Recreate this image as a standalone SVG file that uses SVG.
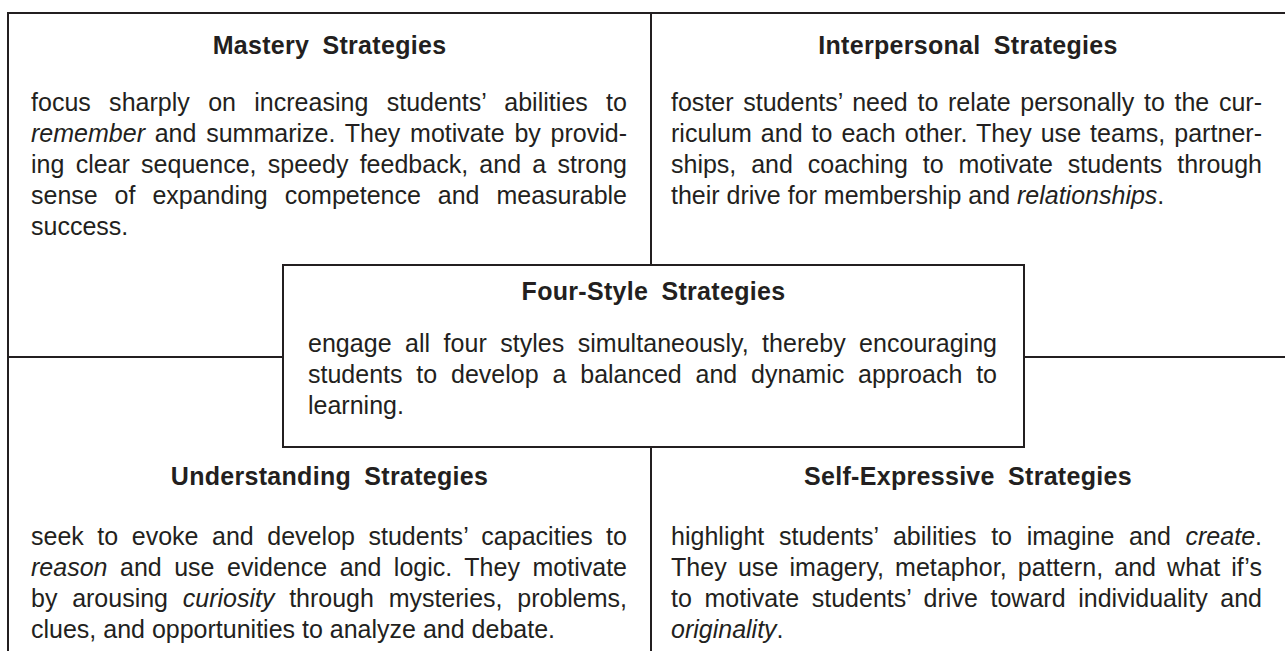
<svg xmlns="http://www.w3.org/2000/svg" width="1285" height="651" viewBox="0 0 1285 651">
<style>
.ln{stroke:#231f20;stroke-width:2;fill:none}
.box{stroke:#231f20;stroke-width:2;fill:#fff}
.h{font-family:"Liberation Sans",Arial,Helvetica,sans-serif;font-weight:bold;font-size:25px;fill:#231f20;text-anchor:middle;word-spacing:6px;letter-spacing:0.3px}
.b{font-family:"Liberation Sans",Arial,Helvetica,sans-serif;font-size:25px;fill:#231f20}
.i{font-style:italic}
</style>
<rect width="1285" height="651" fill="#fff"/>
<g id="connectors">
<line class="ln" x1="8" y1="13" x2="1285" y2="13"/>
<line class="ln" x1="8" y1="12" x2="8" y2="651"/>
<line class="ln" x1="651" y1="13" x2="651" y2="265"/>
<line class="ln" x1="651" y1="447" x2="651" y2="651"/>
<line class="ln" x1="8" y1="357" x2="283" y2="357"/>
<line class="ln" x1="1024" y1="357" x2="1285" y2="357"/>
</g>
<g id="mastery">
<text class="h" x="329.5" y="54">Mastery Strategies</text>
<text class="b" x="31" y="111" textLength="596" lengthAdjust="spacing" style="word-spacing:11.3px">focus sharply on increasing students’ abilities to</text>
<text class="b" x="31" y="142" textLength="596" lengthAdjust="spacing" style="word-spacing:2.8px"><tspan class="i">remember</tspan> and summarize. They motivate by provid-</text>
<text class="b" x="31" y="173" textLength="596" lengthAdjust="spacing" style="word-spacing:4.3px">ing clear sequence, speedy feedback, and a strong</text>
<text class="b" x="31" y="204" textLength="596" lengthAdjust="spacing" style="word-spacing:10px">sense of expanding competence and measurable</text>
<text class="b" x="31" y="235">success.</text>
</g>
<g id="interpersonal">
<text class="h" x="968" y="54">Interpersonal Strategies</text>
<text class="b" x="671" y="111" textLength="591" lengthAdjust="spacing" style="word-spacing:2.7px">foster students’ need to relate personally to the cur-</text>
<text class="b" x="671" y="142" textLength="591" lengthAdjust="spacing" style="word-spacing:2px">riculum and to each other. They use teams, partner-</text>
<text class="b" x="671" y="173" textLength="591" lengthAdjust="spacing" style="word-spacing:7.9px">ships, and coaching to motivate students through</text>
<text class="b" x="671" y="204">their drive for membership and <tspan class="i">relationships</tspan>.</text>
</g>
<g id="fourstyle">
<rect class="box" x="283" y="265" width="741" height="182"/>
<text class="h" x="653.5" y="300">Four-Style Strategies</text>
<text class="b" x="308" y="352" textLength="689" lengthAdjust="spacing" style="word-spacing:6.45px">engage all four styles simultaneously, thereby encouraging</text>
<text class="b" x="308" y="383" textLength="689" lengthAdjust="spacing" style="word-spacing:6.9px">students to develop a balanced and dynamic approach to</text>
<text class="b" x="308" y="414">learning.</text>
</g>
<g id="understanding">
<text class="h" x="329.5" y="485">Understanding Strategies</text>
<text class="b" x="31" y="545" textLength="596" lengthAdjust="spacing" style="word-spacing:6.5px">seek to evoke and develop students’ capacities to</text>
<text class="b" x="31" y="576" textLength="596" lengthAdjust="spacing" style="word-spacing:5.5px"><tspan class="i">reason</tspan> and use evidence and logic. They motivate</text>
<text class="b" x="31" y="607" textLength="596" lengthAdjust="spacing" style="word-spacing:7.8px">by arousing <tspan class="i">curiosity</tspan> through mysteries, problems,</text>
<text class="b" x="31" y="638">clues, and opportunities to analyze and debate.</text>
</g>
<g id="selfexpressive">
<text class="h" x="968" y="485">Self-Expressive Strategies</text>
<text class="b" x="671" y="545" textLength="591" lengthAdjust="spacing" style="word-spacing:7.7px">highlight students’ abilities to imagine and <tspan class="i">create</tspan>.</text>
<text class="b" x="671" y="576" textLength="591" lengthAdjust="spacing" style="word-spacing:4px">They use imagery, metaphor, pattern, and what if’s</text>
<text class="b" x="671" y="607" textLength="591" lengthAdjust="spacing" style="word-spacing:5.6px">to motivate students’ drive toward individuality and</text>
<text class="b" x="671" y="638"><tspan class="i">originality</tspan>.</text>
</g>
</svg>
